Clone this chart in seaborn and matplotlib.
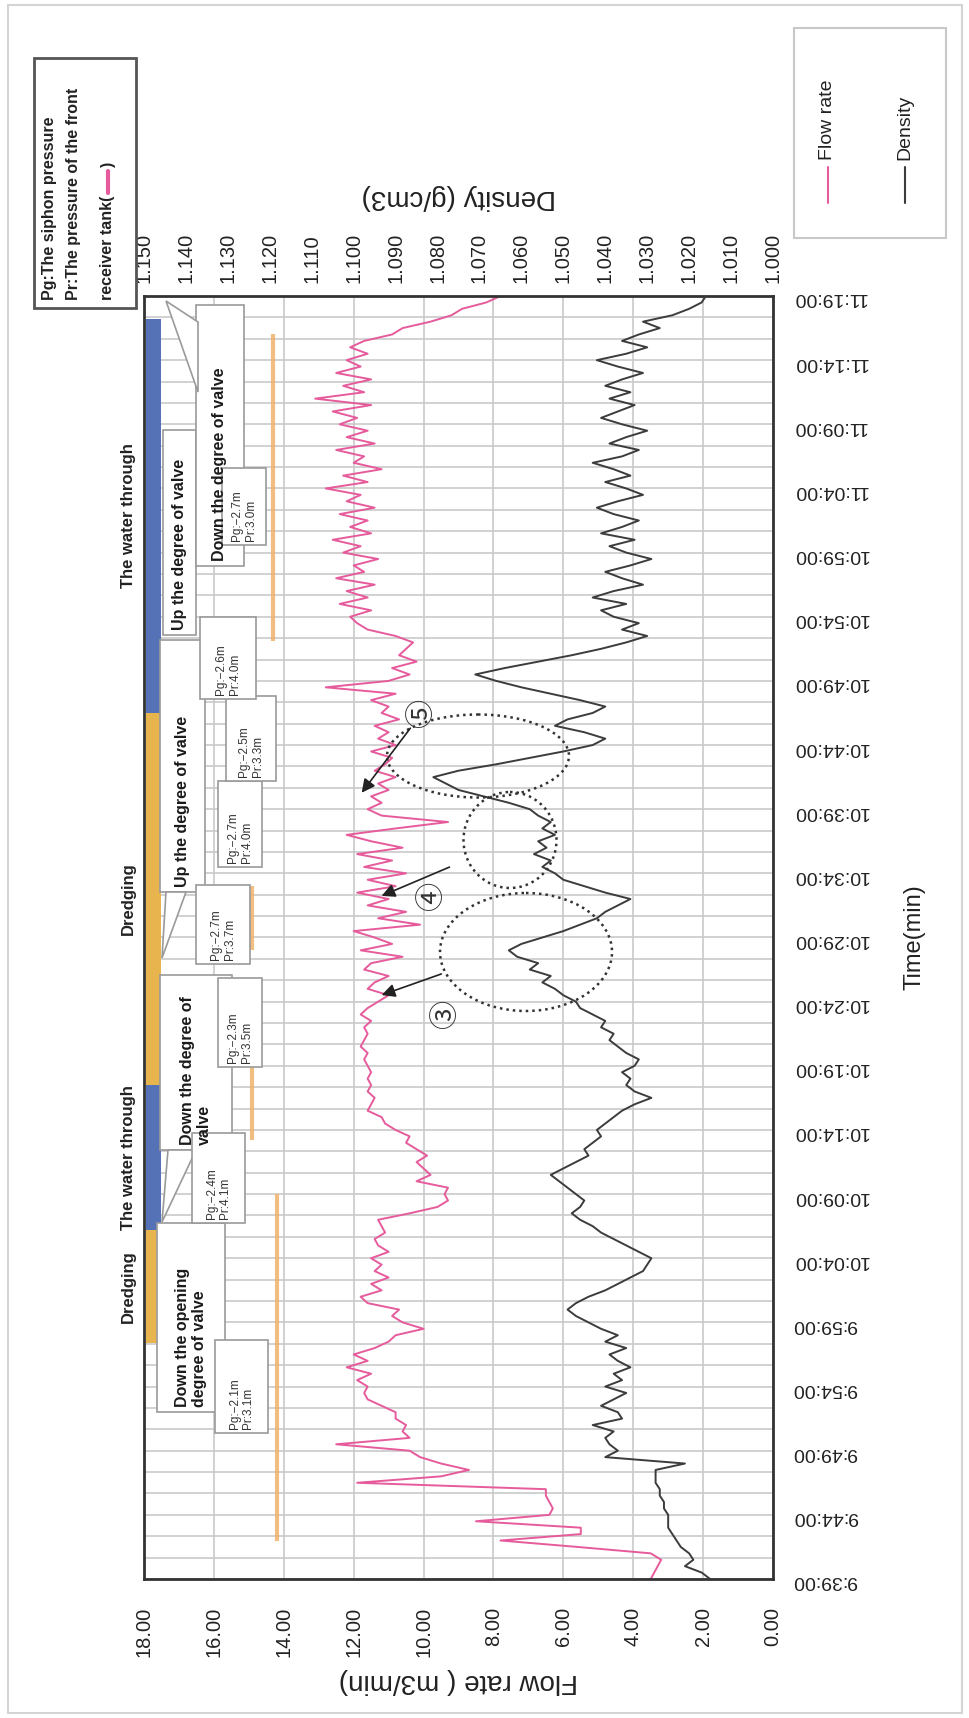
import numpy as np
import pandas as pd
import matplotlib
matplotlib.use("Agg")
import matplotlib.pyplot as plt
import seaborn as sns
from matplotlib.patches import Rectangle, Ellipse, Polygon

# ---------------- data ----------------
time_tick_minutes = [0, 5, 10, 15, 20, 25, 30, 35, 40, 45, 50, 55, 60, 65, 70, 75, 80, 85, 90, 95, 100]
time_tick_labels = ["9:39:00", "9:44:00", "9:49:00", "9:54:00", "9:59:00", "10:04:00", "10:09:00",
                    "10:14:00", "10:19:00", "10:24:00", "10:29:00", "10:34:00", "10:39:00", "10:44:00",
                    "10:49:00", "10:54:00", "10:59:00", "11:04:00", "11:09:00", "11:14:00", "11:19:00"]
flow_ticks = [0, 2, 4, 6, 8, 10, 12, 14, 16, 18]
density_ticks = [1.00, 1.01, 1.02, 1.03, 1.04, 1.05, 1.06, 1.07, 1.08, 1.09, 1.10, 1.11, 1.12, 1.13, 1.14, 1.15]

# flow rate (m3/min), segments of readings every half minute: (start min, end min, values)
flow_seg1 = [3.5, 3.4, 3.3, 3.2, 3.5, 5.6, 7.8, 5.5, 5.5, 8.5, 6.4, 6.3, 6.4, 6.5, 6.5, 11.9, 9.5, 8.7,
             9.5, 10.1, 10.4, 12.5, 10.4, 10.6, 10.5, 10.8, 10.8, 11.2, 11.6, 11.7, 11.6]
flow_seg2 = [11.9, 11.5, 12.2, 11.6, 12.0, 11.4, 11.0, 10.8, 10.0, 10.6, 10.9, 10.7, 11.6, 11.8, 11.2,
             11.5, 11.0, 11.4, 11.2, 11.5, 11.0, 11.3, 11.4, 11.1, 11.2, 11.3, 10.4, 9.6, 9.3, 9.4, 9.3,
             10.2, 9.8, 10.0, 10.2, 9.9, 10.2, 10.5, 10.4, 10.8, 11.1, 11.2, 11.6, 11.5, 11.4, 11.6, 11.5,
             11.6, 11.5, 11.6]
flow_seg3 = [11.7, 11.6, 11.8, 11.7, 11.6, 11.7, 11.5, 11.8, 11.6, 11.3, 11.0, 11.6, 11.4, 11.0, 11.7,
             11.5, 10.6, 11.8, 10.9, 11.4, 12.0, 10.1, 11.3, 10.5, 11.6, 11.0, 11.9, 10.8, 11.6, 10.5,
             11.7, 10.9, 11.9, 10.6, 11.5, 12.2, 10.8, 9.3, 11.2, 11.6]
flow_seg4 = [11.2, 11.5, 11.0, 11.3, 10.8, 11.4, 11.1, 10.9, 11.5, 10.8, 11.3, 11.0, 11.4, 10.7, 11.2,
             11.0, 11.5, 10.8, 12.8, 11.0, 10.4, 10.9, 10.2, 10.7, 10.5, 10.3, 10.8, 11.6, 11.9, 12.1]
flow_seg5 = [11.5, 12.4, 11.6, 12.2, 11.4, 12.5, 11.7, 12.0, 11.3, 12.3, 11.8, 12.6, 11.5, 12.1, 11.6,
             12.4, 11.4, 12.2, 11.8, 12.8, 11.6, 12.3, 11.2, 12.0, 11.7, 12.5, 11.4, 12.2, 11.6, 12.4,
             11.9, 12.6, 11.5, 13.1, 11.7, 12.3, 11.5, 12.5, 11.8, 12.2, 11.6, 12.1, 11.7, 10.9, 10.6,
             9.8, 9.2, 8.9, 8.2, 7.8]
flow_segments = [(0, 15, flow_seg1), (15.5, 40, flow_seg2), (40.5, 60, flow_seg3),
                 (60.5, 75, flow_seg4), (75.5, 100, flow_seg5)]

# density (g/cm3)
dens_seg1 = [1.015, 1.017, 1.021, 1.019, 1.020, 1.022, 1.023, 1.024, 1.025, 1.025, 1.025, 1.026, 1.026,
             1.027, 1.027, 1.028, 1.028, 1.028, 1.021, 1.040, 1.037, 1.039, 1.040, 1.038, 1.043, 1.036,
             1.037, 1.041, 1.038, 1.035, 1.040]
dens_seg2 = [1.036, 1.038, 1.034, 1.037, 1.039, 1.035, 1.040, 1.037, 1.041, 1.044, 1.047, 1.049, 1.047,
             1.044, 1.040, 1.037, 1.034, 1.031, 1.030, 1.029, 1.032, 1.035, 1.038, 1.041, 1.043, 1.046,
             1.048, 1.046, 1.045, 1.047, 1.049, 1.051, 1.053, 1.050, 1.047, 1.044, 1.045, 1.043, 1.041,
             1.042, 1.040, 1.038, 1.036, 1.033, 1.029, 1.033, 1.035, 1.034, 1.036, 1.033, 1.032, 1.035,
             1.037, 1.039, 1.038, 1.041, 1.040, 1.043, 1.046, 1.047]
dens_seg3 = [1.050, 1.052, 1.055, 1.053, 1.058, 1.056, 1.061, 1.063, 1.060, 1.055, 1.050, 1.046, 1.042,
             1.040, 1.037, 1.034, 1.040, 1.045, 1.050, 1.052, 1.055, 1.053, 1.057, 1.054, 1.056, 1.052,
             1.055, 1.053, 1.056, 1.058]
dens_seg4 = [1.063, 1.069, 1.075, 1.078, 1.081, 1.075, 1.066, 1.058, 1.050, 1.043, 1.040, 1.045, 1.052,
             1.049, 1.043, 1.040, 1.046, 1.053, 1.060, 1.066, 1.071, 1.064, 1.056, 1.048, 1.041, 1.035,
             1.030, 1.036, 1.032, 1.038]
dens_seg5 = [1.041, 1.035, 1.043, 1.038, 1.031, 1.036, 1.040, 1.034, 1.029, 1.035, 1.039, 1.033, 1.041,
             1.036, 1.032, 1.038, 1.042, 1.037, 1.031, 1.035, 1.040, 1.034, 1.038, 1.043, 1.036, 1.032,
             1.039, 1.035, 1.030, 1.036, 1.041, 1.037, 1.033, 1.039, 1.034, 1.040, 1.036, 1.031, 1.037,
             1.042, 1.035, 1.030, 1.036, 1.032, 1.027, 1.031, 1.024, 1.020, 1.017, 1.016]
dens_segments = [(0, 15, dens_seg1), (15.5, 45, dens_seg2), (45.5, 60, dens_seg3),
                 (60.5, 75, dens_seg4), (75.5, 100, dens_seg5)]

# operation phases (minutes after 9:39)
phase_start = [18.4, 27.2, 38.5, 67.5]
phase_end = [27.2, 38.5, 67.5, 98.2]
phase_label = ["Dredging", "The water through", "Dredging", "The water through"]
phase_color = ["#e8b44e", "#5672b6", "#e8b44e", "#5672b6"]

# Pr marker segments (drawn on flow scale)
pr_level = [14.2, 15.2, 14.9, 14.9, 14.9, 14.4, 14.9, 14.3]
pr_start = [3.0, 30.3, 34.2, 49.0, 57.4, 62.5, 68.4, 73.1]
pr_end = [30.0, 34.0, 42.6, 54.0, 62.5, 68.4, 73.1, 97.0]


def build(segments):
    ts, vs = [], []
    for t0, t1, vals in segments:
        ts.append(np.linspace(t0, t1, len(vals)))
        vs.append(np.asarray(vals, float))
    return np.concatenate(ts), np.concatenate(vs)


t_flow, v_flow = build(flow_segments)
t_dens, v_dens = build(dens_segments)
df_flow = pd.DataFrame({"time": t_flow, "flow": v_flow})
df_dens = pd.DataFrame({"time": t_dens, "density": v_dens})

# ---------------- figure ----------------
sns.set_style("white")
plt.rcParams["font.family"] = ["Liberation Sans", "DejaVu Sans", "Noto Sans CJK JP"]

W, H = 969, 1718
fig = plt.figure(figsize=(W / 100, H / 100), dpi=100)
fig.patch.set_facecolor("white")

L, R, T, B = 144, 773, 296, 1579
ax = fig.add_axes([L / W, 1 - B / H, (R - L) / W, (B - T) / H])
ax2 = ax.twiny()

FLOW_C = "#e65b9c"
DENS_C = "#3c3c3c"
GRID_C = "#c9c9c9"

sns.lineplot(data=df_flow, x="flow", y="time", orient="y", sort=False, estimator=None,
             color=FLOW_C, lw=1.4, ax=ax, legend=False)
sns.lineplot(data=df_dens, x="density", y="time", orient="y", sort=False, estimator=None,
             color=DENS_C, lw=1.4, ax=ax2, legend=False)

# phase bars and Pr markers
for s, e, c in zip(phase_start, phase_end, phase_color):
    ax.barh(y=(s + e) / 2, width=0.42, height=e - s, left=17.52, color=c, edgecolor="none", zorder=3)
for lvl, s, e in zip(pr_level, pr_start, pr_end):
    ax.vlines(lvl, s, e, color="#f0b26a", lw=3, alpha=0.85, zorder=3)
for s, e, lab in zip(phase_start, phase_end, phase_label):
    ax.text(18.45, (s + e) / 2, lab, rotation=90, ha="center", va="center", fontsize=12,
            fontweight="bold", color="#222222", clip_on=False)

ax.set_xlim(18, 0)
ax.set_ylim(0, 100)
ax2.set_xlim(1.15, 1.00)
ax2.set_ylim(0, 100)

ax.set_xticks(flow_ticks)
ax.set_xticklabels([f"{v:.2f}" for v in flow_ticks])
ax2.set_xticks(density_ticks)
ax2.set_xticklabels([f"{v:.3f}" for v in density_ticks])
ax.yaxis.tick_right()
ax.set_yticks(time_tick_minutes)
ax.set_yticklabels(time_tick_labels)
ax.set_yticks(np.arange(0, 100.01, 5 / 3), minor=True)

ax.tick_params(axis="x", length=0, pad=20, labelsize=14.5, labelrotation=90, colors="#222222")
ax2.tick_params(axis="x", length=0, pad=9, labelsize=14.5, labelrotation=90, colors="#222222")
ax.tick_params(axis="y", which="both", length=0, pad=14, labelsize=14, labelrotation=180,
               colors="#222222")
ax.tick_params(axis="y", which="minor", labelright=False)

ax.set_axisbelow(True)
ax.grid(True, axis="x", which="major", color=GRID_C, lw=1.2)
ax.grid(True, axis="y", which="both", color=GRID_C, lw=1.2)
ax2.grid(False)
for sp in ax.spines.values():
    sp.set_color("#333333")
    sp.set_linewidth(2)
for sp in ax2.spines.values():
    sp.set_visible(False)

ax.set_xlabel("Flow rate ( m3/min)", rotation=180, fontsize=20, color="#222222")
ax.xaxis.set_label_coords(0.5, (B - 1681) / (B - T))
ax.xaxis.label.set_va("center")
ax2.set_xlabel("Density (g/cm3)", rotation=180, fontsize=20, color="#222222")
ax2.xaxis.set_label_coords(0.5, (B - 197) / (B - T))
ax2.xaxis.label.set_va("center")
ax.yaxis.set_label_position("right")
ax.set_ylabel("Time(min)", rotation=90, fontsize=17, color="#222222")
ax.yaxis.set_label_coords((915 - L) / (R - L), 0.5)
ax.yaxis.label.set_va("center")
ax.yaxis.label.set_ha("center")

# ---------------- annotation overlay (pixel coordinates) ----------------
ov = fig.add_axes([0, 0, 1, 1], zorder=5)
ov.set_xlim(0, W)
ov.set_ylim(H, 0)
ov.axis("off")
ov.patch.set_alpha(0)

# outer frame
ov.add_patch(Rectangle((8, 5), 954, 1708, fill=False, ec="#d4d4d4", lw=1.5))

# top-left key box
ov.add_patch(Rectangle((34, 58), 102, 250, fc="white", ec="#555555", lw=2))
kw = dict(rotation=90, ha="center", va="bottom", fontsize=11.5, fontweight="bold", color="#222222")
ov.text(50, 300, "Pg:The siphon pressure", **kw)
ov.text(74, 300, "Pr:The pressure of the front", **kw)
ov.text(108, 300, "receiver tank(", **kw)
ov.text(108, 167, ")", **kw)
ov.plot([108, 108], [171, 193], color=FLOW_C, lw=3)

# legend box top-right
ov.add_patch(Rectangle((794, 28), 152, 210, fc="white", ec="#c8c8c8", lw=1.5))
ov.plot([828, 828], [167, 203], color=FLOW_C, lw=1.5)
ov.text(828, 160, "Flow rate", rotation=90, ha="center", va="bottom", fontsize=14, color="#222222")
ov.plot([905, 905], [167, 203], color=DENS_C, lw=1.5)
ov.text(905, 160, "Density", rotation=90, ha="center", va="bottom", fontsize=14, color="#222222")

# callout boxes
callouts = [
    ((157, 1223, 225, 1412), "Down the opening\ndegree of valve"),
    ((160, 975, 232, 1150), "Down the degree of\nvalve"),
    ((160, 640, 205, 892), "Up the degree of valve"),
    ((163, 430, 196, 635), "Up the degree of valve"),
    ((196, 305, 244, 566), "Down the degree of valve"),
]
for (x0, y0, x1, y1), txt in callouts:
    ov.add_patch(Rectangle((x0, y0), x1 - x0, y1 - y0, fc="white", ec="#9a9a9a", lw=1.2))
    ov.text((x0 + x1) / 2, y1 - 5, txt, rotation=90, ha="center", va="bottom", fontsize=11.5,
            fontweight="bold", color="#1a1a1a", multialignment="left", linespacing=1.15)
pointers = [
    [(168, 1150), (196, 1150), (162, 1222)],
    [(166, 892), (186, 892), (162, 958)],
    [(198, 322), (198, 392), (166, 301)],
]
for pts in pointers:
    ov.add_patch(Polygon(pts, closed=True, fc="white", ec="#9a9a9a", lw=1.2))

small_boxes = [
    ((215, 1340, 268, 1433), "Pg:\u22122.1m\nPr:3.1m"),
    ((192, 1133, 245, 1223), "Pg:\u22122.4m\nPr:4.1m"),
    ((218, 978, 262, 1067), "Pg:\u22122.3m\nPr:3.5m"),
    ((196, 885, 250, 964), "Pg:\u22122.7m\nPr:3.7m"),
    ((218, 781, 262, 867), "Pg:\u22122.7m\nPr:4.0m"),
    ((226, 696, 276, 781), "Pg:\u22122.5m\nPr:3.3m"),
    ((200, 617, 256, 699), "Pg:\u22122.6m\nPr:4.0m"),
    ((222, 468, 266, 545), "Pg:\u22122.7m\nPr:3.0m"),
]
for (x0, y0, x1, y1), txt in small_boxes:
    ov.add_patch(Rectangle((x0, y0), x1 - x0, y1 - y0, fc="white", ec="#9a9a9a", lw=1.2))
    ov.text((x0 + x1) / 2, y1 - 4, txt, rotation=90, ha="center", va="bottom", fontsize=8.5,
            color="#333333", multialignment="left", linespacing=1.2)

# dotted circles, numbers and arrows
for (cx, cy, w, h) in [(478, 756, 182, 83), (510, 840, 93, 96), (526, 952, 172, 118)]:
    ov.add_patch(Ellipse((cx, cy), w, h, fill=False, ec="#333333", lw=1.8, ls=(0, (1, 1.6))))
for (x, y, s) in [(422, 712, "\u2464"), (432, 895, "\u2463"), (446, 1013, "\u2462")]:
    ov.text(x, y, s, rotation=90, ha="center", va="center", fontsize=21, color="#333333",
            family=["Noto Sans CJK JP", "DejaVu Sans"])
for tail, head in [((412, 726), (360, 795)), ((452, 866), (379, 897)), ((444, 973), (379, 996))]:
    ov.annotate("", xy=head, xytext=tail,
                arrowprops=dict(arrowstyle="-|>", color="#222222", lw=1.2, mutation_scale=20))

fig.savefig("out.png", dpi=100, facecolor="white")
